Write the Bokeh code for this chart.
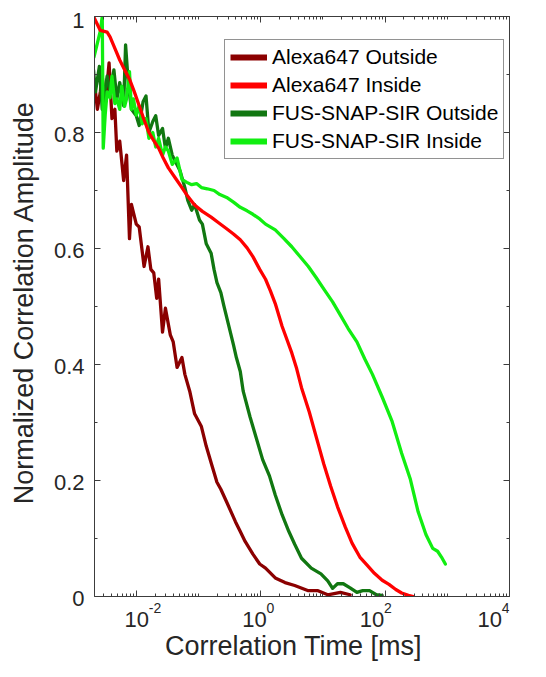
import math
from bokeh.plotting import figure
from bokeh.layouts import row, column
from bokeh.models import (LogAxis, LinearAxis, FixedTicker, CustomJSTickFormatter,
                          Legend, LegendItem, ColumnDataSource, Range1d)
from bokeh.core.properties import value
from bokeh.embed import file_html
from bokeh.resources import INLINE

# ---------------- data ----------------
tau_alexa_out = [0.002129, 0.002371, 0.002642, 0.002838, 0.003162, 0.003652, 0.004064, 0.004529,
                 0.004870, 0.005420, 0.006266, 0.006978, 0.007775, 0.008354, 0.01, 0.01114, 0.01334,
                 0.01540, 0.01715, 0.01910, 0.02130, 0.02288, 0.02642, 0.02943, 0.03523, 0.03926,
                 0.04529, 0.05420, 0.06043, 0.07231, 0.08660, 0.1114, 0.1334, 0.1655, 0.1981, 0.2288,
                 0.2838, 0.3926, 0.4698, 0.5623, 0.7499, 0.9647, 1.197, 1.715, 2.460, 3.523, 5.834,
                 8.354, 11.97, 19.11, 27.38]
amp_alexa_out = [0.886, 0.840, 0.870, 0.897, 0.846, 0.920, 0.824, 0.840,
                 0.768, 0.785, 0.717, 0.761, 0.617, 0.676, 0.642, 0.637, 0.569,
                 0.603, 0.564, 0.558, 0.514, 0.547, 0.456, 0.497, 0.451, 0.439,
                 0.395, 0.412, 0.383, 0.354, 0.315, 0.293, 0.259, 0.225, 0.197, 0.185,
                 0.163, 0.129, 0.112, 0.095, 0.073, 0.056, 0.049, 0.032, 0.024, 0.019, 0.010,
                 0.010, 0.003, 0.007, 0.003]

tau_alexa_in = [0.00210, 0.002642, 0.003398, 0.003786, 0.004529, 0.005420, 0.006494, 0.007775,
                0.009307, 0.01114, 0.01334, 0.01596, 0.01910, 0.02288, 0.02738, 0.03281, 0.04217,
                0.05420, 0.06730, 0.08660, 0.1155, 0.1596, 0.2130, 0.2838, 0.3652, 0.4698, 0.6043,
                0.7499, 0.9647, 1.197, 1.433, 1.715, 2.207, 2.641, 3.162, 3.785, 4.532, 6.043, 8.354,
                10.37, 13.34, 17.15, 22.86, 29.42, 39.24, 50.49, 67.32, 89.77, 115.5, 148.5, 184.5,
                237.1, 283.8]
amp_alexa_in = [0.998, 0.976, 0.973, 0.965, 0.945, 0.925, 0.908, 0.892,
                0.870, 0.846, 0.822, 0.800, 0.786, 0.773, 0.755, 0.739, 0.722,
                0.705, 0.690, 0.675, 0.664, 0.654, 0.644, 0.634, 0.625, 0.615, 0.601,
                0.586, 0.564, 0.547, 0.527, 0.505, 0.466, 0.443, 0.420, 0.393, 0.360, 0.318, 0.264,
                0.228, 0.190, 0.155, 0.120, 0.092, 0.068, 0.055, 0.040, 0.028, 0.021, 0.012, 0.006,
                0.002, 0.0]

tau_fus_out = [0.002054, 0.002207, 0.002549, 0.002838, 0.003398, 0.003786, 0.004370, 0.004870,
               0.005420, 0.006266, 0.006733, 0.007499, 0.008354, 0.01, 0.01114, 0.01286, 0.01433,
               0.01596, 0.01843, 0.02054, 0.02288, 0.02642, 0.02943, 0.03281, 0.03786, 0.04217,
               0.05048, 0.06043, 0.06730, 0.07775, 0.08660, 0.1038, 0.1155, 0.1334, 0.1596, 0.1778,
               0.1981, 0.2288, 0.2549, 0.3051, 0.3652, 0.4064, 0.4698, 0.5234, 0.6733, 0.8354,
               1.075, 1.383, 1.715, 2.207, 2.838, 3.523, 4.532, 6.494, 9.307, 11.97, 14.33, 17.15,
               21.30, 27.38, 35.22, 43.70, 56.23, 72.31, 89.77]
amp_fus_out = [0.908, 0.870, 0.914, 0.840, 0.897, 0.870, 0.908, 0.858,
               0.886, 0.846, 0.951, 0.880, 0.840, 0.829, 0.812, 0.853, 0.863,
               0.800, 0.819, 0.829, 0.795, 0.807, 0.773, 0.790, 0.761, 0.751,
               0.734, 0.705, 0.683, 0.666, 0.676, 0.649, 0.642, 0.608, 0.592, 0.564,
               0.541, 0.524, 0.502, 0.468, 0.434, 0.412, 0.388, 0.354, 0.310, 0.276,
               0.236, 0.208, 0.175, 0.141, 0.112, 0.090, 0.066, 0.049, 0.039, 0.027, 0.014, 0.022,
               0.022, 0.015, 0.007, 0.010, 0.010, 0.003, 0.002]

tau_fus_in = [0.002088, 0.002371, 0.002642, 0.002838, 0.002943, 0.003162, 0.003398, 0.003786,
              0.004064, 0.004529, 0.004870, 0.005420, 0.005834, 0.006494, 0.006978, 0.007775,
              0.008354, 0.008977, 0.01, 0.01114, 0.01241, 0.01433, 0.01596, 0.01843, 0.02054,
              0.02288, 0.02642, 0.02943, 0.03281, 0.03786, 0.04529, 0.05420, 0.06494, 0.07775,
              0.09307, 0.1114, 0.1383, 0.1778, 0.2207, 0.2838, 0.3652, 0.4698, 0.6043, 0.7499,
              0.9647, 1.197, 1.715, 2.371, 3.162, 4.217, 5.834, 7.775, 10.37, 14.33, 19.11, 25.48,
              35.22, 46.96, 62.62, 89.77, 128.6, 184.5, 254.8, 339.8, 453.2, 583.4, 697.8, 805.4,
              930.7]
amp_fus_in = [0.930, 0.954, 0.975, 1.000, 0.773, 0.830, 0.870, 0.860,
              0.897, 0.850, 0.858, 0.840, 0.880, 0.845, 0.858, 0.905,
              0.840, 0.858, 0.830, 0.846, 0.815, 0.824, 0.790, 0.800, 0.775,
              0.790, 0.761, 0.775, 0.768, 0.745, 0.756, 0.719, 0.714, 0.710,
              0.712, 0.705, 0.703, 0.700, 0.693, 0.688, 0.680, 0.671, 0.665, 0.659,
              0.651, 0.642, 0.632, 0.617, 0.603, 0.587, 0.569, 0.550, 0.530, 0.508, 0.485, 0.462,
              0.439, 0.410, 0.383, 0.344, 0.303, 0.247, 0.202, 0.146, 0.107, 0.083, 0.078, 0.068,
              0.056]

series_labels = ["Alexa647 Outside", "Alexa647 Inside", "FUS-SNAP-SIR Outside", "FUS-SNAP-SIR Inside"]
series_colors = ["#8b0000", "#ff0000", "#117711", "#11ee11"]

x_lim = (0.00213, 1e4)
y_lim = (0.0, 1.0)
x_major = [1e-2, 1e0, 1e2, 1e4]
x_exponents = ["-2", "0", "2", "4"]
y_major = [0, 0.2, 0.4, 0.6, 0.8, 1.0]
y_tick_text = ["0", "0.2", "0.4", "0.6", "0.8", "1"]
x_title = "Correlation Time [ms]"
y_title = "Normalized Correlation Amplitude"

# ---------------- layout (pixels) ----------------
FONT = "Liberation Sans"
TXT = "#262626"
AX = "#3c3c3c"
TICK_FS = 22
SUP_FS = 14

TOTAL_W, TOTAL_H = 530, 661
FR_L, FR_R, FR_T, FR_B = 94, 509, 16, 596      # plot frame box
LEFT_W = FR_L - 3                               # left label strip (full height)
RIGHT_W = TOTAL_W - LEFT_W
TOP_H = FR_B + 2
BOT_H = TOTAL_H - TOP_H
FR_W, FR_H = FR_R - FR_L, FR_B - FR_T

# ---------------- main plot ----------------
p = figure(width=RIGHT_W, height=TOP_H, x_axis_type="log",
           x_range=x_lim, y_range=y_lim,
           output_backend="svg", toolbar_location=None,
           min_border_left=FR_L - LEFT_W, min_border_right=TOTAL_W - FR_R,
           min_border_top=FR_T, min_border_bottom=TOP_H - FR_B)
p.xgrid.visible = False
p.ygrid.visible = False
p.outline_line_color = None

x_minor = [m * 10.0 ** e for e in range(-3, 4) for m in range(1, 10)]
x_ticker = FixedTicker(ticks=x_major, minor_ticks=x_minor)
y_minor = [i / 10 for i in range(11)]
y_ticker = FixedTicker(ticks=y_major, minor_ticks=y_minor)
EMPTY = CustomJSTickFormatter(code="return ''")

def style_axis(ax):
    ax.formatter = EMPTY
    ax.axis_line_color = AX
    ax.axis_line_width = 1
    ax.major_tick_line_color = AX
    ax.minor_tick_line_color = AX
    ax.major_tick_in = 6
    ax.major_tick_out = 0
    ax.minor_tick_in = 3
    ax.minor_tick_out = 0
    ax.major_label_text_font_size = "0px"
    ax.major_label_standoff = 0

p.xaxis[0].ticker = x_ticker
style_axis(p.xaxis[0])
p.yaxis[0].ticker = y_ticker
style_axis(p.yaxis[0])
top = LogAxis(ticker=x_ticker)
style_axis(top)
p.add_layout(top, "above")
right = LinearAxis(ticker=y_ticker)
style_axis(right)
p.add_layout(right, "right")

all_series = [(tau_alexa_out, amp_alexa_out), (tau_alexa_in, amp_alexa_in),
              (tau_fus_out, amp_fus_out), (tau_fus_in, amp_fus_in)]
for i in [0, 2, 3, 1]:
    t, a = all_series[i]
    p.line("x", "y", source=ColumnDataSource(dict(x=t, y=a)), line_color=series_colors[i],
           line_width=3.3, line_join="round", line_cap="round")

items = []
for (t, a), lab, col in zip(all_series, series_labels, series_colors):
    r = p.line(x=t, y=a, line_color=col, line_width=6, visible=False)
    items.append(LegendItem(label=lab, renderers=[r]))
legend = Legend(items=items, location=(130, FR_H - 25 - 118))
legend.label_text_font = FONT
legend.label_text_font_size = "21px"
legend.label_text_color = "#000000"
legend.glyph_width = 37
legend.glyph_height = 24
legend.label_height = 24
legend.label_standoff = 5
legend.spacing = 4
legend.padding = 5
legend.margin = 0
legend.border_line_color = "#262626"
legend.border_line_width = 1
legend.background_fill_color = "white"
legend.inactive_fill_alpha = 0.0
legend.click_policy = "none"
p.add_layout(legend)

# ---------------- left strip: y tick labels and y title (same y scale as the frame) ----------------
py_per_unit = FR_H / (y_lim[1] - y_lim[0])
left = figure(width=LEFT_W, height=TOTAL_H, output_backend="svg", toolbar_location=None,
              x_axis_location=None, y_axis_location=None, min_border=0,
              x_range=Range1d(0, LEFT_W),
              y_range=Range1d(y_lim[0] - (TOTAL_H - FR_B) / py_per_unit,
                              y_lim[1] + FR_T / py_per_unit))
left.outline_line_color = None
left.grid.visible = False
lab_x = LEFT_W - 7
left.text(x=[lab_x] * (len(y_major) - 1), y=y_major[:-1], text=y_tick_text[:-1],
          text_align="right", text_baseline="middle", y_offset=2,
          text_font=value(FONT), text_font_size=f"{TICK_FS}px", text_color=TXT)
left.text(x=[lab_x], y=y_major[-1:], text=y_tick_text[-1:],
          text_align="right", text_baseline="middle", y_offset=4,
          text_font=value(FONT), text_font_size=f"{TICK_FS}px", text_color=TXT)
left.text(x=[23], y=[(y_lim[0] + y_lim[1]) / 2], text=[y_title], angle=math.pi / 2,
          text_align="center", text_baseline="middle", y_offset=-4,
          text_font=value(FONT), text_font_size="27px", text_color=TXT)

# ---------------- bottom strip: x tick labels and x title (same log x scale as the frame) ----------------
lx0, lx1 = math.log10(x_lim[0]), math.log10(x_lim[1])
dec_per_px = (lx1 - lx0) / FR_W
bottom = figure(width=RIGHT_W, height=BOT_H, output_backend="svg", toolbar_location=None,
                x_axis_type="log", x_axis_location=None, y_axis_location=None, min_border=0,
                x_range=Range1d(10 ** (lx0 - (FR_L - LEFT_W) * dec_per_px),
                                10 ** (lx1 + (TOTAL_W - FR_R) * dec_per_px)),
                y_range=Range1d(BOT_H, 0))
bottom.outline_line_color = None
bottom.grid.visible = False
bottom.text(x=x_major, y=[20.5] * len(x_major), text=["10"] * len(x_major),
            text_align="center", text_baseline="middle",
            text_font=value(FONT), text_font_size=f"{TICK_FS}px", text_color=TXT)
bottom.text(x=x_major, y=[9] * len(x_major), text=x_exponents, x_offset=12,
            text_align="left", text_baseline="middle",
            text_font=value(FONT), text_font_size=f"{SUP_FS}px", text_color=TXT)
bottom.text(x=[10 ** ((lx0 + lx1) / 2)], y=[47.5], text=[x_title],
            text_align="center", text_baseline="middle",
            text_font=value(FONT), text_font_size="27px", text_color=TXT)

layout = row(left, column(p, bottom, spacing=0), spacing=0)
open("out.html", "w").write(file_html(layout, INLINE))
